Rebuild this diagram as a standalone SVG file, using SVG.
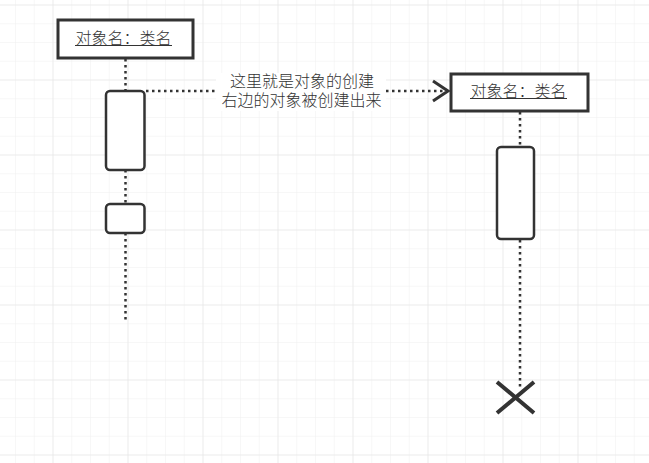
<svg xmlns="http://www.w3.org/2000/svg" width="649" height="463" viewBox="0 0 649 463">
<defs>
<pattern id="minor" x="52.5" y="4.5" width="18.75" height="18.75" patternUnits="userSpaceOnUse">
<path d="M0 0V18.75M0 0H18.75" fill="none" stroke="#f0f0f0" stroke-width="1"/>
</pattern>
<pattern id="major" x="52.5" y="4.5" width="75" height="75" patternUnits="userSpaceOnUse">
<path d="M0 0V75M0 0H75" fill="none" stroke="#e3e3e3" stroke-width="1"/>
</pattern>
</defs>
<style>
.box{fill:#fff;stroke:#333;stroke-width:3}
.act{fill:#fff;stroke:#333;stroke-width:2.5}
.life{fill:none;stroke:#333;stroke-width:2.5;stroke-dasharray:2.5 3.5}
.lbl{font-family:"Microsoft YaHei","Noto Sans CJK SC",sans-serif;font-size:16px;font-weight:300;fill:#333;text-anchor:middle}
.ul{stroke:#333;stroke-width:1}
</style>
<rect width="649" height="463" fill="#fff"/>
<rect width="649" height="463" fill="url(#minor)"/>
<rect width="649" height="463" fill="url(#major)"/>

<g id="connectors">
<line class="life" x1="125.5" y1="59" x2="125.5" y2="91"/>
<line class="life" x1="125.5" y1="170" x2="125.5" y2="204"/>
<line class="life" x1="125.5" y1="233" x2="125.5" y2="323"/>
<line class="life" x1="520" y1="112" x2="520" y2="147"/>
<line class="life" x1="520" y1="240" x2="520" y2="388"/>
<g id="create-message">
<line class="life" x1="146" y1="91" x2="447" y2="91"/>
<polyline points="433,81 448,91 433,101" fill="none" stroke="#333" stroke-width="3"/>
<rect x="216" y="73" width="170" height="38" fill="#fff"/>
<text class="lbl" x="302" y="87">这里就是对象的创建</text>
<text class="lbl" x="301.5" y="106">右边的对象被创建出来</text>
</g>
</g>

<g id="obj1">
<rect class="box" x="58" y="20" width="135" height="38"/>
<text class="lbl" x="123.5" y="44">对象名：类名</text>
<line class="ul" x1="75" y1="45.5" x2="172" y2="45.5"/>
</g>
<g id="act1">
<rect class="act" x="106" y="91" width="38.5" height="79" rx="4"/>
</g>
<g id="act2">
<rect class="act" x="106" y="204" width="38.5" height="29" rx="4"/>
</g>
<g id="obj2">
<rect class="box" x="451" y="74" width="137" height="37"/>
<text class="lbl" x="518.5" y="97">对象名：类名</text>
<line class="ul" x1="470" y1="98.5" x2="567" y2="98.5"/>
</g>
<g id="act3">
<rect class="act" x="497" y="147" width="37" height="92" rx="4"/>
</g>
<g id="destroy">
<path d="M497 382L534 413M534 382L497 413" fill="none" stroke="#333" stroke-width="4"/>
</g>
</svg>
